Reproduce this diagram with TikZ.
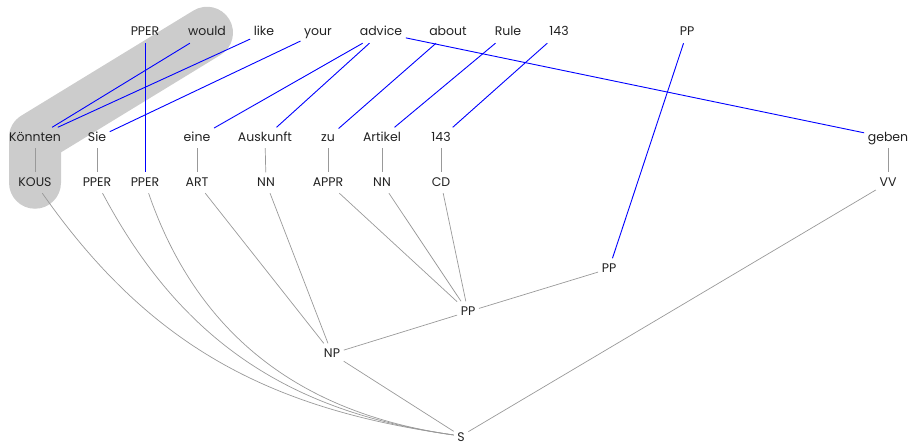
\documentclass[tikz,border=0pt]{standalone}
\usepackage{fontspec}
\setmainfont{Poppins}
\usetikzlibrary{backgrounds}
\definecolor{txt}{HTML}{222222}
\definecolor{lin}{HTML}{999999}
\definecolor{bandc}{HTML}{CCCCCC}
\begin{document}
\begin{tikzpicture}[x=1pt,y=1pt,
  w/.style={inner sep=3.5pt, text height=10pt, text depth=3.5pt, anchor=base,
            font=\fontsize{12.5}{14}\selectfont, text=txt},
  al/.style={draw=blue, line width=0.9pt},
  tr/.style={draw=lin, line width=0.7pt},
  band/.style={draw=bandc, line width=52pt, line cap=round, line join=round}]
\useasboundingbox (0,0) rectangle (910,-444);
% top row
\node[w] (t1) at (145,-36) {PPER};
\node[w] (t2) at (207,-36) {would};
\node[w] (t3) at (264,-36) {like};
\node[w] (t4) at (318,-36) {your};
\node[w] (t5) at (381,-36) {advice};
\node[w] (t6) at (448,-36) {about};
\node[w] (t7) at (508,-36) {Rule};
\node[w] (t8) at (559,-36) {143};
\node[w] (t9) at (687,-36) {PP};
% middle row
\node[w] (m1) at (35,-141) {Könnten};
\node[w] (m2) at (97,-141) {Sie};
\node[w] (m3) at (197,-141) {eine};
\node[w] (m4) at (265,-141) {Auskunft};
\node[w] (m5) at (328,-141) {zu};
\node[w] (m6) at (382,-141) {Artikel};
\node[w] (m7) at (441,-141) {143};
\node[w] (m8) at (888,-141) {geben};
% POS row
\node[w] (p1) at (35,-186) {KOUS};
\node[w] (p2) at (97,-186) {PPER};
\node[w] (p3) at (145,-186) {PPER};
\node[w] (p4) at (197,-186) {ART};
\node[w] (p5) at (266,-186) {NN};
\node[w] (p6) at (328,-186) {APPR};
\node[w] (p7) at (382,-186) {NN};
\node[w] (p8) at (441,-186) {CD};
\node[w] (p9) at (888,-186) {VV};
% phrases
\node[w] (ppr) at (609,-272) {PP};
\node[w] (ppm) at (468,-315) {PP};
\node[w] (np) at (332,-357) {NP};
\node[w, text depth=0pt, inner ysep=1.5pt] (s) at (461,-441) {S};
% highlight band
\begin{scope}[on background layer]
\path[band] (t2.center) -- (m1.center) -- (p1.center);
\end{scope}
% word - POS
\foreach \a/\b in {m1/p1,m2/p2,m3/p4,m4/p5,m5/p6,m6/p7,m7/p8,m8/p9}
  \draw[tr] (\a) -- (\b);
% tree
\draw[tr] (p1) to[out=-55,in=172] (s);
\draw[tr] (p2) to[out=-62,in=172] (s);
\draw[tr] (p3) to[out=-71,in=172] (s);
\draw[tr] (p4) -- (np);
\draw[tr] (p5) -- (np);
\draw[tr] (p6) -- (ppm);
\draw[tr] (p7) -- (ppm);
\draw[tr] (p8) -- (ppm);
\draw[tr] (np) -- (ppm);
\draw[tr] (ppm) -- (ppr);
\draw[tr] (np) -- (s);
\draw[tr] (p9) -- (s);
% alignment
\draw[al] (t1) -- (p3);
\draw[al] (t2) -- (m1);
\draw[al] (t3) -- (m1);
\draw[al] (t4) -- (m2);
\draw[al] (t5) -- (m3);
\draw[al] (t5) -- (m4);
\draw[al] (t6) -- (m5);
\draw[al] (t7) -- (m6);
\draw[al] (t8) -- (m7);
\draw[al] (t5) -- (m8);
\draw[al] (t9) -- (ppr);
\end{tikzpicture}
\end{document}
